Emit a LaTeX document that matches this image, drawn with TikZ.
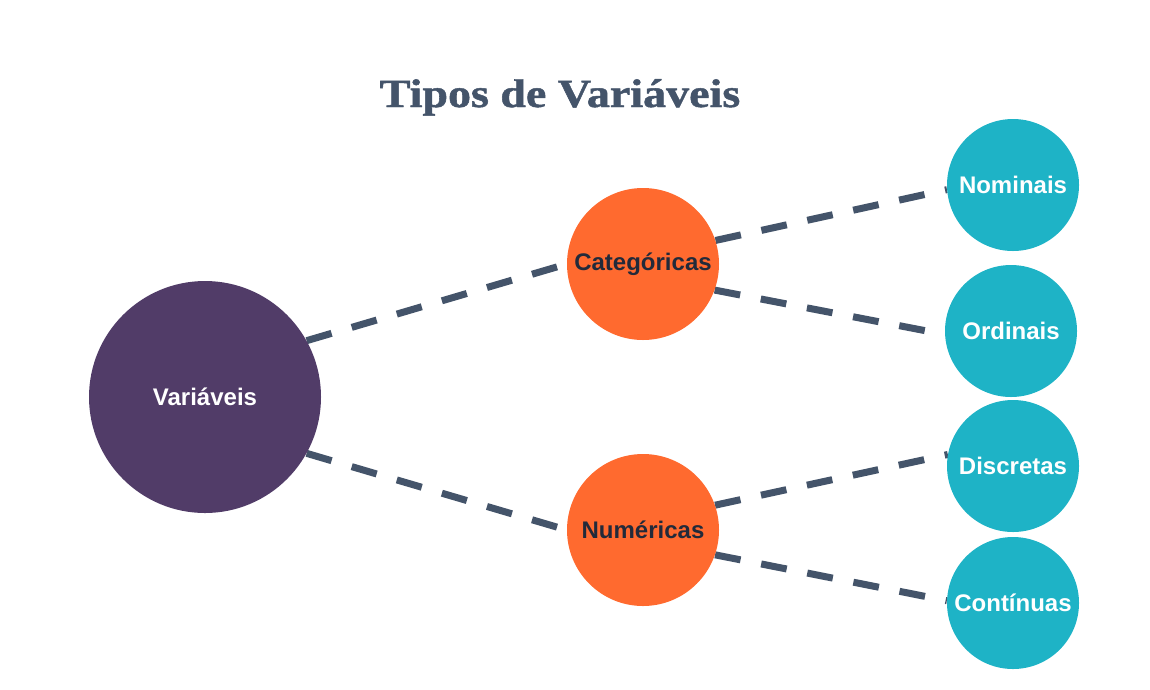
\documentclass[tikz,border=0pt]{standalone}
\usepackage{fontspec}
\setmainfont{Liberation Sans}
\newfontfamily\titlefont[FakeBold=1.2]{Liberation Serif}
\usepackage{graphicx}
\definecolor{slate}{HTML}{44546A}
\definecolor{purp}{HTML}{513C68}
\definecolor{orng}{HTML}{FF6A2F}
\definecolor{teal}{HTML}{1EB3C6}
\definecolor{navy}{HTML}{222A3A}
\pgfdeclarelayer{bg}
\pgfsetlayers{bg,main}
\tikzset{
  bubble/.style={circle, inner sep=0pt, text=white, font=\fontsize{24}{28}\selectfont\bfseries},
  bigbubble/.style={bubble, fill=purp, minimum size=232pt},
  midbubble/.style={bubble, fill=orng, minimum size=152pt, text=navy},
  smallbubble/.style={bubble, fill=teal, minimum size=132pt},
  link/.style={draw=slate, line width=7pt, dash pattern=on 26pt off 21pt}
}
\begin{document}
\begin{tikzpicture}[x=1pt,y=-1pt]
\useasboundingbox (0,0) rectangle (1150,689);
\node[anchor=base, text=slate, font=\titlefont\fontsize{40}{46}\selectfont\bfseries] (title) at (560,107) {\scalebox{1.15}[1]{Tipos de Variáveis}};
\node[bigbubble] (var) at (205,397) {Variáveis};
\node[midbubble] (cat) at (643,264) {Categóricas};
\node[midbubble] (num) at (643,530) {Numéricas};
\node[smallbubble] (nom) at (1013,185) {Nominais};
\node[smallbubble] (ord) at (1011,331) {Ordinais};
\node[smallbubble] (dis) at (1013,466) {Discretas};
\node[smallbubble] (con) at (1013,603) {Contínuas};
\begin{pgfonlayer}{bg}
\draw[link] (var.29) -- (cat.west);
\draw[link] (var.-29) -- (num.west);
\draw[link] (cat.18) -- (nom.184);
\draw[link] (cat.-20) -- (ord.183);
\draw[link] (num.19) -- (dis.170);
\draw[link] (num.-19) -- (con.178);
\end{pgfonlayer}
\end{tikzpicture}
\end{document}
